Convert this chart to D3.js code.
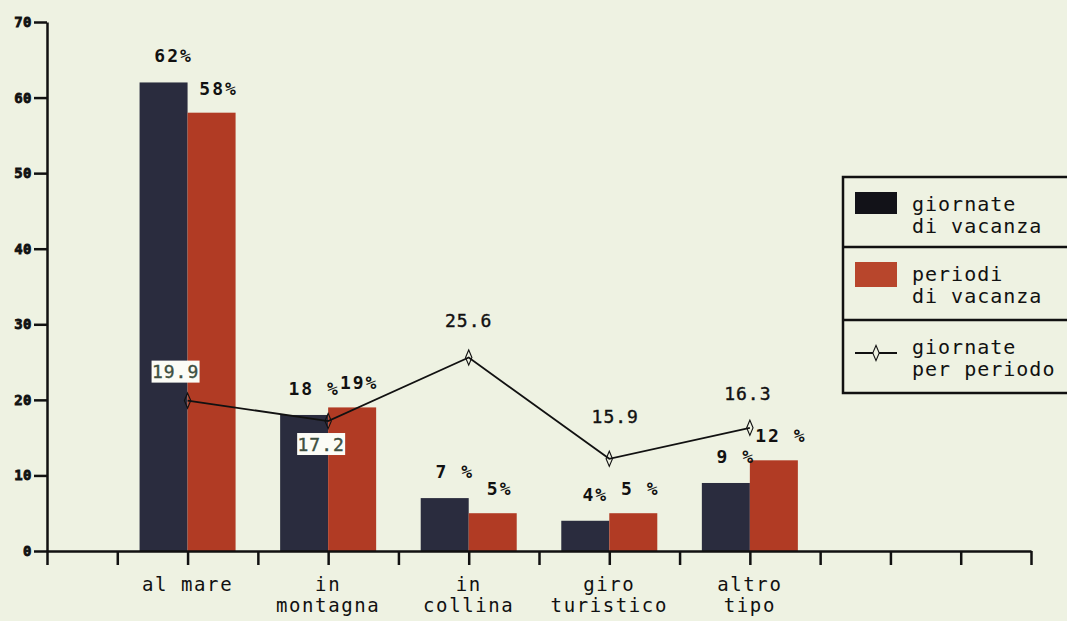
<!DOCTYPE html>
<html>
<head>
<meta charset="utf-8">
<script src="https://cdn.jsdelivr.net/npm/d3@7"></script>
<style>
  html, body { margin: 0; padding: 0; background: #eef2e2; }
  svg { display: block; }
</style>
</head>
<body>
<svg id="chart" width="1067" height="621"></svg>
<script>
// ---------------- data ----------------
const categories = [["al mare"], ["in", "montagna"], ["in", "collina"], ["giro", "turistico"], ["altro", "tipo"]];
const giornate = [62, 18, 7, 4, 9];                 // giornate di vacanza (%)
const periodi = [58, 19, 5, 5, 12];                 // periodi di vacanza (%)
const giornateLabels = ["62%", "18 %", "7 %", "4%", "9 %"];
const periodiLabels = ["58%", "19%", "5%", "5 %", "12 %"];
const perPeriodo = [19.9, 17.2, 25.6, 12.2, 16.3];  // plotted position of the line markers
const perPeriodoLabels = ["19.9", "17.2", "25.6", "15.9", "16.3"];
const yTicks = [0, 10, 20, 30, 40, 50, 60, 70];
const legendLabels = [["giornate", "di vacanza"], ["periodi", "di vacanza"], ["giornate", "per periodo"]];

// ---------------- layout ----------------
const W = 1067, H = 621;
const svg = d3.select("#chart");
const MONO = "'DejaVu Sans Mono', 'Liberation Mono', monospace";
const DARK = "#2a2c3e", RED = "#b13b24", INK = "#111";

svg.append("rect").attr("width", W).attr("height", H).attr("fill", "#eef2e2");

const x = d3.scaleLinear().domain([0, 14]).range([47, 1031]);
const y = d3.scaleLinear().domain([0, 70]).range([551, 22]);
const catPos = i => x(2 + 2 * i);
const bw = x(0.683) - x(0);

// bars
const g = svg.append("g");
g.selectAll("rect.dark").data(giornate).join("rect")
  .attr("class", "dark")
  .attr("x", (d, i) => catPos(i) - bw).attr("width", bw)
  .attr("y", d => y(d)).attr("height", d => y(0) - y(d))
  .attr("fill", DARK);
g.selectAll("rect.red").data(periodi).join("rect")
  .attr("class", "red")
  .attr("x", (d, i) => catPos(i)).attr("width", bw)
  .attr("y", d => y(d)).attr("height", d => y(0) - y(d))
  .attr("fill", RED);

// line
const line = d3.line().x((d, i) => catPos(i)).y(d => y(d));
g.append("path").datum(perPeriodo)
  .attr("d", line).attr("fill", "none").attr("stroke", INK).attr("stroke-width", 1.8);
const diamond = d3.symbol().type(d3.symbolDiamond).size(55);
g.selectAll("path.mk").data(perPeriodo).join("path")
  .attr("class", "mk")
  .attr("d", diamond)
  .attr("transform", (d, i) => `translate(${catPos(i)},${y(d)}) scale(0.8,1.1)`)
  .attr("fill", "none").attr("stroke", INK).attr("stroke-width", 1.3);

// bar value labels
g.selectAll("text.dl").data(giornateLabels).join("text")
  .attr("class", "dl")
  .attr("x", (d, i) => catPos(i) - bw / 2 + 10)
  .attr("y", (d, i) => y(giornate[i]) - 20)
  .attr("text-anchor", "middle")
  .attr("font-family", MONO).attr("font-weight", "bold").attr("font-size", 18)
  .attr("letter-spacing", 2).attr("fill", INK)
  .text(d => d);
g.selectAll("text.rl").data(periodiLabels).join("text")
  .attr("class", "rl")
  .attr("x", (d, i) => catPos(i) + bw / 2 + 7)
  .attr("y", (d, i) => y(periodi[i]) - 18)
  .attr("text-anchor", "middle")
  .attr("font-family", MONO).attr("font-weight", "bold").attr("font-size", 18)
  .attr("letter-spacing", 2).attr("fill", INK)
  .text(d => d);

// line value labels
const lblOffset = [[-12, -29, true], [-7, 23, true], [0, -37, false], [6, -42, false], [-2, -34, false]];
perPeriodoLabels.forEach((t, i) => {
  const [dx, dy, boxed] = lblOffset[i];
  const cx = catPos(i) + dx, cy = y(perPeriodo[i]) + dy;
  if (boxed) {
    g.append("rect").attr("x", cx - 24).attr("y", cy - 11).attr("width", 48).attr("height", 22)
      .attr("fill", "#fbfcf6");
  }
  g.append("text").attr("x", cx).attr("y", cy + 6.5)
    .attr("text-anchor", "middle")
    .attr("font-family", MONO).attr("font-size", 18).attr("letter-spacing", 1)
    .attr("fill", boxed ? "#3d4f40" : INK)
    .attr("stroke", boxed ? "#3d4f40" : INK).attr("stroke-width", 0.4)
    .text(t);
});

// axes
const yAxis = svg.append("g").attr("transform", `translate(${x(0)},0)`)
  .call(d3.axisLeft(y).tickValues(yTicks).tickSize(13).tickSizeOuter(0).tickFormat(d => d));
yAxis.select(".domain").attr("stroke", INK).attr("stroke-width", 2.5);
yAxis.selectAll(".tick line").attr("stroke", INK).attr("stroke-width", 2.5);
yAxis.selectAll(".tick text")
  .attr("font-family", MONO).attr("font-weight", "bold").attr("font-size", 14)
  .attr("letter-spacing", 0.5).attr("fill", INK).attr("stroke", INK).attr("stroke-width", 0.8)
  .attr("x", -15);

const xAxis = svg.append("g").attr("transform", `translate(0,${y(0)})`)
  .call(d3.axisBottom(x).tickValues(d3.range(0, 15)).tickSize(14).tickSizeOuter(0).tickFormat(""));
xAxis.select(".domain").attr("stroke", INK).attr("stroke-width", 2.5);
xAxis.selectAll(".tick line").attr("stroke", INK).attr("stroke-width", 2.5);

// category labels
categories.forEach((lines, i) => {
  lines.forEach((t, j) => {
    svg.append("text").attr("x", catPos(i)).attr("y", 591 + j * 21)
      .attr("text-anchor", "middle")
      .attr("font-family", MONO).attr("font-size", 19).attr("letter-spacing", 1.6)
      .attr("fill", INK).text(t);
  });
});

// legend
const lg = svg.append("g");
const lx = 843, ly = 177, rowH = [70, 73, 73];
const rowTops = [ly, ly + rowH[0], ly + rowH[0] + rowH[1]];
const lh = rowH[0] + rowH[1] + rowH[2];
lg.append("rect").attr("x", lx).attr("y", ly).attr("width", 240).attr("height", lh)
  .attr("fill", "#eef2e2").attr("stroke", INK).attr("stroke-width", 2.5);
rowTops.slice(1).forEach(t => lg.append("line").attr("x1", lx).attr("x2", W).attr("y1", t).attr("y2", t)
  .attr("stroke", INK).attr("stroke-width", 2.5));
lg.append("rect").attr("x", 855).attr("y", rowTops[0] + 15).attr("width", 42).attr("height", 22).attr("fill", "#121218");
lg.append("rect").attr("x", 855).attr("y", rowTops[1] + 15).attr("width", 42).attr("height", 25).attr("fill", "#b8462c");
lg.append("line").attr("x1", 855).attr("x2", 897).attr("y1", rowTops[2] + 33).attr("y2", rowTops[2] + 33)
  .attr("stroke", INK).attr("stroke-width", 1.8);
lg.append("path").attr("d", diamond)
  .attr("transform", `translate(876,${rowTops[2] + 33}) scale(0.8,1.1)`)
  .attr("fill", "#eef2e2").attr("stroke", INK).attr("stroke-width", 1.3);
legendLabels.forEach((lines, i) => {
  lines.forEach((t, j) => {
    lg.append("text").attr("x", 912).attr("y", rowTops[i] + 34 + j * 22)
      .attr("font-family", MONO).attr("font-size", 20).attr("letter-spacing", 1)
      .attr("fill", INK).text(t);
  });
});
</script>
</body>
</html>
